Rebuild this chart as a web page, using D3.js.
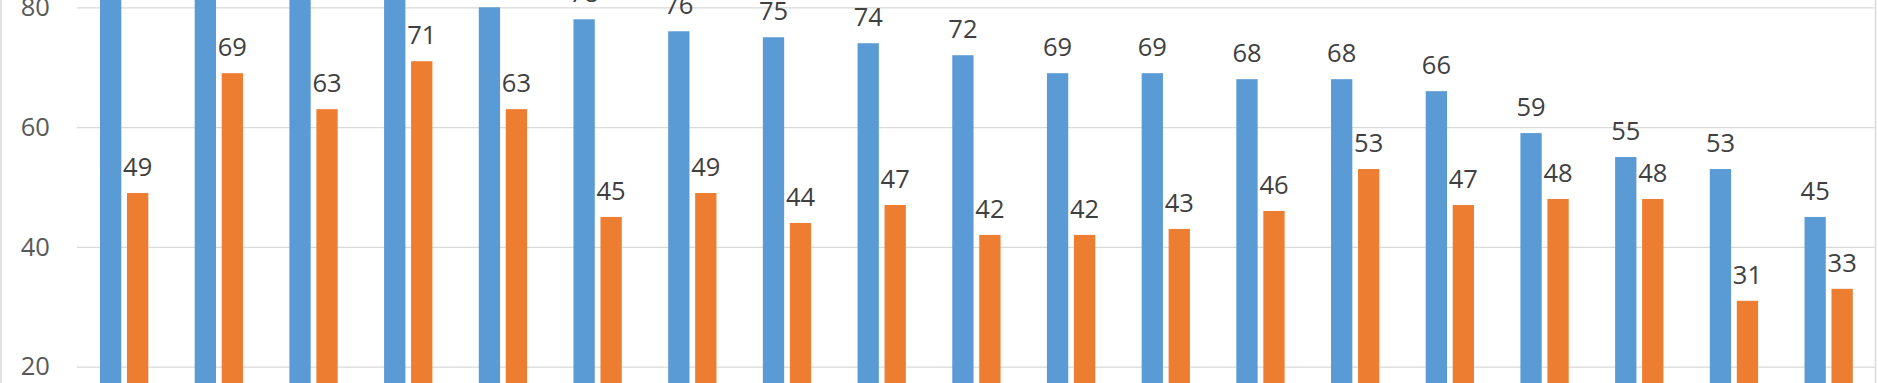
<!DOCTYPE html>
<html>
<head>
<meta charset="utf-8">
<script src="https://cdn.jsdelivr.net/npm/d3@7/dist/d3.min.js"></script>
<style>
  html, body { margin: 0; padding: 0; background: #fff; overflow: hidden; }
  svg { display: block; }
</style>
</head>
<body>
<script>
// Category names and the first four blue values lie outside the visible crop (estimated).
const categories = ["1","2","3","4","5","6","7","8","9","10","11","12","13","14","15","16","17","18","19"];
const seriesNames = ["Series 1", "Series 2"];
const series1 = [90, 87, 84, 82, 80, 78, 76, 75, 74, 72, 69, 69, 68, 68, 66, 59, 55, 53, 45];
const series2 = [49, 69, 63, 71, 63, 45, 49, 44, 47, 42, 42, 43, 46, 53, 47, 48, 48, 31, 33];
const yTicks = [0, 20, 40, 60, 80, 100];
const colors = ["#5B9BD5", "#ED7D31"];

const W = 1878, H = 383;
const svg = d3.select("body").append("svg").attr("width", W).attr("height", H);

const plotLeft = 76.8, plotRight = 1876;
const y = d3.scaleLinear().domain([0, 100]).range([486.5, -112.5]);
const x0 = d3.scaleBand().domain(categories).range([plotLeft, plotRight]).paddingInner(0.49).paddingOuter(0.245);
const x1 = d3.scaleBand().domain(seriesNames).range([0, x0.bandwidth()]).paddingInner(0.211).paddingOuter(0);

const fontFamily = "'Open Sans', 'Noto Sans', sans-serif";
const fontSize = "25.5px";

// chart border
svg.append("rect").attr("x", 1).attr("y", -10).attr("width", 1874.5).attr("height", H + 20)
  .attr("fill", "none").attr("stroke", "#d9d9d9").attr("stroke-width", 1.5);

// gridlines
const grid = d3.axisLeft(y).tickValues(yTicks).tickSize(-(plotRight - 1.5 - plotLeft)).tickFormat("");
svg.append("g").attr("transform", `translate(${plotLeft},0)`).call(grid)
  .call(g => g.select(".domain").remove())
  .call(g => g.selectAll("line").attr("stroke", "#d9d9d9").attr("stroke-width", 1.3));

// y tick labels
const yAxis = d3.axisLeft(y).tickValues(yTicks).tickSize(0).tickPadding(27);
svg.append("g").attr("transform", `translate(${plotLeft},0)`).call(yAxis)
  .call(g => g.select(".domain").remove())
  .call(g => g.selectAll("text").attr("fill", "#595959")
    .style("font-family", fontFamily).style("font-size", fontSize));

const data = categories.map((c, i) => ({ cat: c, vals: [series1[i], series2[i]] }));

const groups = svg.append("g").selectAll("g").data(data).join("g")
  .attr("transform", d => `translate(${x0(d.cat)},0)`);

groups.selectAll("rect").data(d => d.vals.map((v, k) => ({ k, v }))).join("rect")
  .attr("x", d => x1(seriesNames[d.k]))
  .attr("width", x1.bandwidth())
  .attr("y", d => y(d.v))
  .attr("height", d => y(0) - y(d.v))
  .attr("fill", d => colors[d.k]);

groups.selectAll("text").data(d => d.vals.map((v, k) => ({ k, v }))).join("text")
  .attr("x", d => x1(seriesNames[d.k]) + x1.bandwidth() / 2)
  .attr("y", d => y(d.v) - 17)
  .attr("text-anchor", "middle")
  .attr("fill", "#404040")
  .style("font-family", fontFamily)
  .style("font-size", fontSize)
  .text(d => d.v);
</script>
</body>
</html>
